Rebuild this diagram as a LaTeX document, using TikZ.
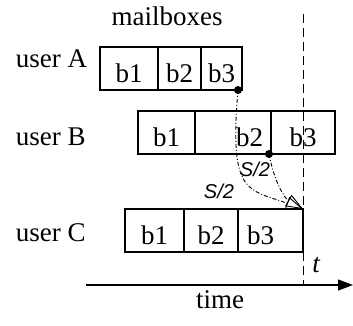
\documentclass[tikz,border=0pt]{standalone}
\usepackage{fontspec}
\setmainfont{Liberation Serif}
\newfontfamily\labelfont{Liberation Sans}
\usetikzlibrary{positioning, arrows.meta}

\begin{document}
\begin{tikzpicture}[x=1pt, y=1pt, line width=1.1pt, font=\fontsize{27}{32}\selectfont]
		\tikzstyle{cell}=[draw, rectangle, inner sep=0pt, outer sep=0pt, minimum height=43pt, text height=28pt, text depth=0pt]
		\tikzstyle{share}=[line width=0.9pt, dash pattern=on 4pt off 2pt on 1pt off 2pt, -{Triangle[open, length=17pt, width=13pt]}]
		\tikzstyle{sharelabel}=[anchor=base, font=\labelfont\itshape\fontsize{20}{24}\selectfont]
		\useasboundingbox (0,0) rectangle (353,326);
		
		\node[anchor=base] at (167,300) (mail) {mailboxes};
		\node[anchor=base west] at (12,258) (userA) {user A};
		\node[anchor=base west] at (12,180) (userB) {user B};
		\node[anchor=base west] at (12,84)  (userC) {user C};
		
		% mailbox blocks
		\node[cell, minimum width=58pt, anchor=west] at (100,257.5) (A1) {b1};
		\node[cell, minimum width=43pt, right=0pt of A1] (A2) {b2};
		\node[cell, minimum width=41pt, right=0pt of A2] (A3) {b3};
		
		\node[cell, minimum width=57pt, anchor=west] at (138,193.5) (B1) {b1};
		\node[cell, minimum width=76pt, text width=60pt, align=right, right=0pt of B1] (B2) {b2};
		\node[cell, minimum width=64pt, right=0pt of B2] (B3) {b3};
		
		\node[cell, minimum width=59pt, anchor=west] at (125,95.5) (C1) {b1};
		\node[cell, minimum width=54pt, right=0pt of C1] (C2) {b2};
		\node[cell, minimum width=65pt, text width=47pt, align=left, right=0pt of C2] (C3) {b3};
		
		% time axis
		\coordinate (t0) at (86,41);
		\coordinate (t1) at (353,41);
		\coordinate (now) at (303,312);
		\draw[-{Triangle[length=15pt, width=11pt]}] (t0) -- (t1);
		\draw[line width=0.8pt, dash pattern=on 9pt off 5pt] (now) -- (now |- t0);
		\node[anchor=base] at (316.5,53) (tlab) {\textit{t}};
		\node[anchor=base] at (220,17) (timelab) {time};
		
		% shares
		\coordinate (srcA) at ([xshift=-4pt]A3.south east);
		\coordinate (srcB) at ([xshift=-2pt]B2.south east);
		\fill (srcA) circle (4pt);
		\fill (srcB) circle (4pt);
		\draw[share] (srcA) to[out=265, in=160, out looseness=2, in looseness=1.1] (C3.north east);
		\draw[share] (srcB) to[out=281, in=150, out looseness=1.25, in looseness=0.8] (C3.north east);
		\node[sharelabel] at (255,149) (sB) {S/2};
		\node[sharelabel] at (219,127) (sA) {S/2};
	\end{tikzpicture}
\end{document}
